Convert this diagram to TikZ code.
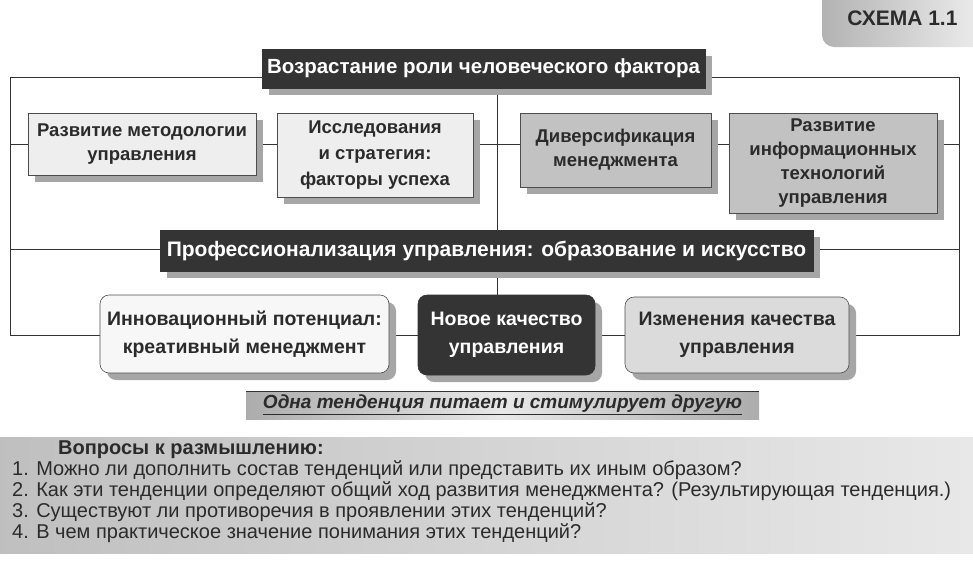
\documentclass[tikz,border=0pt]{standalone}
\usepackage{fontspec}
\setmainfont{Liberation Sans}
\usetikzlibrary{shadows,backgrounds}
\definecolor{dk}{HTML}{343434}
\definecolor{txt}{HTML}{2B2B2B}
\definecolor{lt}{HTML}{EEEEEE}
\definecolor{md}{HTML}{C2C2C2}
\definecolor{shd}{HTML}{A6A6A6}
\definecolor{ln}{HTML}{333333}
\tikzset{
  box/.style={draw=black!70, line width=0.6pt, align=center, inner sep=0pt,
    font=\bfseries\fontsize{18.5}{24}\selectfont, text=txt,
    drop shadow={shadow xshift=7pt, shadow yshift=-7pt, fill=shd, opacity=1}},
  lightbox/.style={box, fill=lt},
  midbox/.style={box, fill=md},
  darkbox/.style={box, fill=dk, draw=dk, text=white},
  rbox/.style={rounded corners=9pt, font=\bfseries\fontsize{19.5}{28}\selectfont},
  frame/.style={draw=ln, line width=0.9pt},
  qline/.style={anchor=west, inner sep=0pt, text=txt, font=\fontsize{20}{22}\selectfont}
}
\begin{document}
\begin{tikzpicture}[x=1pt,y=-1pt]
\useasboundingbox (0,0) rectangle (973,560);
% tab
\shade[left color=gray!60, right color=gray!12, rounded corners=12pt]
  (822,-20) -- (822,47) -- (990,47) -- (990,-20) -- cycle;
\node[font=\bfseries\fontsize{21}{22}\selectfont, text=txt, anchor=east] (schema) at (961,18) {СХЕМА 1.1};

% frame coordinates
\coordinate (fTL) at (10,77);
\coordinate (fTR) at (959,77);
\coordinate (fBL) at (10,335);
\coordinate (fBR) at (959,335);
\coordinate (fL1) at (10,144);
\coordinate (fR1) at (959,144);
\coordinate (fL2) at (10,249);
\coordinate (fR2) at (959,249);
\coordinate (vT) at (497,77);
\coordinate (vB) at (497,335);

% nodes
\node[darkbox, minimum width=443pt, minimum height=39pt, font=\bfseries\fontsize{20.5}{22}\selectfont] (title) at (483.5,68.5) {Возрастание роли человеческого фактора};
\node[lightbox, minimum width=228pt, minimum height=62pt] (dev) at (142,144) {Развитие методологии\\управления};
\node[lightbox, minimum width=196pt, minimum height=84pt, font=\bfseries\fontsize{18.5}{26}\selectfont] (research) at (375,155) {Исследования\\и стратегия:\\факторы успеха};
\node[midbox, minimum width=191pt, minimum height=74pt] (divers) at (615.5,150) {Диверсификация\\менеджмента};
\node[midbox, minimum width=208pt, minimum height=100pt] (info) at (833,163) {Развитие\\информационных\\технологий\\управления};
\node[darkbox, minimum width=653pt, minimum height=41pt, font=\bfseries\fontsize{21}{22}\selectfont] (prof) at (486.5,250.5) {Профессионализация управления: образование и искусство};
\node[box, rbox, fill=white!97!black, minimum width=289pt, minimum height=78pt] (innov) at (244.5,334) {Инновационный потенциал:\\креативный менеджмент};
\node[darkbox, rbox, minimum width=177pt, minimum height=80pt] (newq) at (506.5,335) {Новое качество\\управления};
\node[midbox, rbox, fill=gray!28, minimum width=224pt, minimum height=76pt] (change) at (737,335) {Изменения качества\\управления};

% connectors (behind)
\begin{scope}[on background layer]
\draw[frame] (fTL) -- (fTR) -- (fBR) -- (fBL) -- cycle;
\draw[frame] (fL1) -- (fR1);
\draw[frame] (fL2) -- (fR2);
\draw[frame] (vT) -- (vB);
\end{scope}

% bar
\shade[left color=gray!65, right color=gray!65, middle color=gray!18] (246,391) rectangle (759,419);
\draw[ln, line width=0.8pt] (246,391) -- (759,391);
\node[font=\bfseries\itshape\fontsize{19}{22}\selectfont, text=txt, inner sep=0pt] (bar) at (502.5,405) {\underline{Одна тенденция питает и стимулирует другую}};

% questions panel
\shade[left color=gray!50, right color=gray!18] (0,437) rectangle (973,553);
\node[qline, font=\bfseries\fontsize{20}{22}\selectfont] (qh) at (58,450) {Вопросы к размышлению:};
\node[qline] (q1) at (12,470) {1. Можно ли дополнить состав тенденций или представить их иным образом?};
\node[qline] (q2) at (12,491) {2. Как эти тенденции определяют общий ход развития менеджмента? (Результирующая тенденция.)};
\node[qline] (q3) at (12,512) {3. Существуют ли противоречия в проявлении этих тенденций?};
\node[qline] (q4) at (12,533) {4. В чем практическое значение понимания этих тенденций?};
\end{tikzpicture}
\end{document}
